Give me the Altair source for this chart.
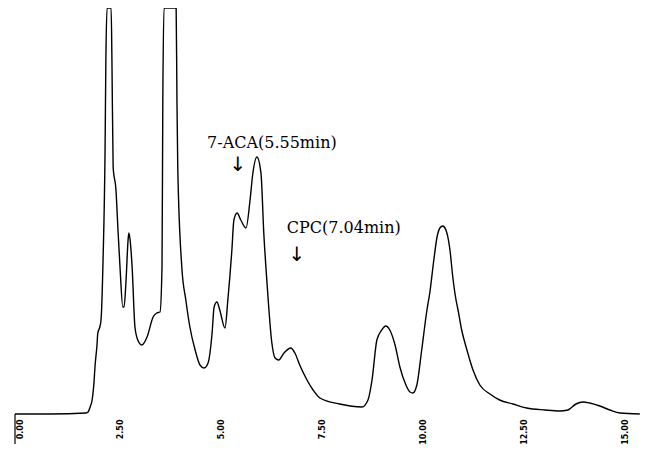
import altair as alt
import pandas as pd

# Retention time (min) and detector response (arbitrary units, full scale = 406)
time_min = [0.00, 0.87, 1.76, 1.81, 1.86, 1.91, 1.96, 1.98, 2.03, 2.05, 2.10, 2.13, 2.18, 2.23, 2.25,
            2.28, 2.38, 2.40, 2.43, 2.50, 2.55, 2.60, 2.67, 2.70, 2.75, 2.80, 2.82, 2.85, 2.90, 2.97,
            3.04, 3.14, 3.27, 3.42, 3.51, 3.59, 3.64, 3.66, 3.69, 3.99, 4.01, 4.03, 4.13, 4.23, 4.33,
            4.46, 4.58, 4.68, 4.78, 4.88, 4.93, 5.00, 5.07, 5.20, 5.27, 5.37, 5.42, 5.50, 5.59, 5.72,
            5.82, 5.89, 5.99, 6.09, 6.16, 6.24, 6.36, 6.44, 6.53, 6.66, 6.83, 6.93, 7.05, 7.23, 7.38,
            7.55, 8.04, 8.59, 8.74, 8.84, 8.96, 9.08, 9.18, 9.28, 9.41, 9.53, 9.68, 9.78, 9.85, 9.95,
            10.07, 10.20, 10.27, 10.37, 10.45, 10.52, 10.59, 10.67, 10.77, 10.84, 10.92, 10.97, 11.06,
            11.19, 11.34, 11.51, 11.76, 12.00, 12.33, 12.67, 13.12, 13.49, 13.69, 13.89, 14.06, 14.23,
            14.48, 14.73, 14.98, 15.47]
response = [0, 0, 1, 2, 7, 14, 34, 47, 69, 81, 87, 94, 154, 264, 354,
            406, 406, 354, 247, 224, 184, 147, 107, 107, 134, 174, 181, 174, 147, 87,
            74, 69, 77, 97, 101, 102, 147, 314, 406, 406, 314, 247, 147, 114, 87,
            64, 49, 46, 51, 81, 107, 112, 104, 86, 114, 164, 194, 201, 194, 186,
            214, 241, 257, 241, 181, 131, 71, 56, 54, 61, 66, 61, 49, 34, 24,
            16, 10, 7, 14, 34, 74, 84, 88, 84, 69, 47, 29, 22, 21, 29,
            64, 104, 121, 154, 177, 186, 188, 184, 164, 137, 114, 104, 84,
            64, 44, 29, 20, 14, 10, 6, 4, 3, 4, 10, 12, 11,
            8, 4, 1, 0]

tick_values = [0, 2.5, 5, 7.5, 10, 12.5, 15]

ann_text = ["7-ACA(5.55min)", "CPC(7.04min)"]
ann_text_t = [6.36, 8.14]
ann_text_v = [271, 186]
arrow_t = [5.52, 6.98]
arrow_v = [249, 159]

trace = pd.DataFrame({"t": time_min, "v": response})
labels = pd.DataFrame({"t": ann_text_t, "v": ann_text_v, "label": ann_text})
arrows = pd.DataFrame({"t": arrow_t, "v": arrow_v, "label": ["↓"] * len(arrow_t)})

xscale = alt.Scale(domain=[0, 15.5], nice=False, zero=False)
yscale = alt.Scale(domain=[0, 406], nice=False)

line = alt.Chart(trace).mark_line(color="black", strokeWidth=1.4, interpolate="monotone").encode(
    x=alt.X("t:Q", scale=xscale,
            axis=alt.Axis(values=tick_values, format=".2f", title=None, domain=False,
                          ticks=False, grid=False, labelAngle=-90, labelFontSize=8,
                          labelFont="DejaVu Sans", labelFontWeight="bold",
                          labelColor="black", labelPadding=5, labelOffset=5)),
    y=alt.Y("v:Q", scale=yscale, axis=None),
)

text = alt.Chart(labels).mark_text(font="DejaVu Serif", fontSize=16, color="black",
                                   align="center", baseline="middle").encode(
    x=alt.X("t:Q", scale=xscale), y=alt.Y("v:Q", scale=yscale), text="label:N")

arrow = alt.Chart(arrows).mark_text(font="DejaVu Sans", fontSize=20, color="black",
                                    align="center", baseline="middle").encode(
    x=alt.X("t:Q", scale=xscale), y=alt.Y("v:Q", scale=yscale), text="label:N")

origin = alt.Chart(pd.DataFrame({"t": [0]})).mark_rule(color="black", strokeWidth=1.2).encode(
    x=alt.X("t:Q", scale=xscale), y=alt.value(406), y2=alt.value(436))

chart = alt.layer(line, text, arrow, origin).properties(
    width=626, height=406,
    padding={"left": 7, "top": 0, "right": 0, "bottom": 30},
    autosize=alt.AutoSizeParams(type="none"),
).configure_view(stroke=None)

chart.save("out.html", embed_options={"renderer": "svg", "actions": False})
